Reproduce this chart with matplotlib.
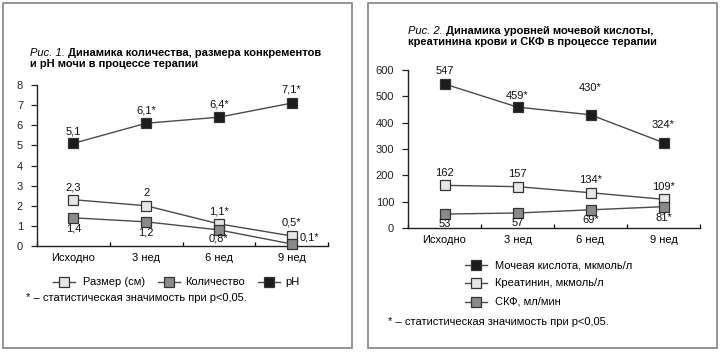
import matplotlib
matplotlib.use("Agg")
import matplotlib.pyplot as plt
from matplotlib.patches import Rectangle
from matplotlib.lines import Line2D

plt.rcParams['font.family'] = ['Liberation Sans', 'DejaVu Sans']

# ---- data ----
categories = ["Исходно", "3 нед", "6 нед", "9 нед"]

size_cm = [2.3, 2.0, 1.1, 0.5]
count = [1.4, 1.2, 0.8, 0.1]
ph = [5.1, 6.1, 6.4, 7.1]
size_labels = ["2,3", "2", "1,1*", "0,5*"]
count_labels = ["1,4", "1,2", "0,8*", "0,1*"]
ph_labels = ["5,1", "6,1*", "6,4*", "7,1*"]

uric = [547, 459, 430, 324]
creat = [162, 157, 134, 109]
gfr = [53, 57, 69, 81]
uric_labels = ["547", "459*", "430*", "324*"]
creat_labels = ["162", "157", "134*", "109*"]
gfr_labels = ["53", "57", "69*", "81*"]

left_yticks = [0, 1, 2, 3, 4, 5, 6, 7, 8]
right_yticks = [0, 100, 200, 300, 400, 500, 600]

W, H = 720, 352
fig = plt.figure(figsize=(W / 100, H / 100), dpi=100)

C_BLACK = "#1c1c1c"
C_GREY = "#8a8a8a"
C_LIGHT = "#e6e6e6"
C_EDGE = "#333333"
C_LINE = "#4a4a4a"


def fx(px):
    return px / W


def fy(py):
    return 1 - py / H


# panel frames
for x0, x1 in [(3, 352), (368, 717)]:
    fig.patches.append(Rectangle((fx(x0), fy(348)), fx(x1 - x0), (348 - 3) / H,
                                 transform=fig.transFigure, fill=False,
                                 edgecolor="#8c8c8c", lw=1.3))


def make_axes(xl, xr, y0, ytop, ymax, yticks):
    ax = fig.add_axes([fx(xl), fy(y0), fx(xr - xl), (y0 - ytop) / H])
    ax.set_xlim(-0.5, 3.5)
    ax.set_ylim(0, ymax)
    for s in ["top", "right"]:
        ax.spines[s].set_visible(False)
    for s in ["left", "bottom"]:
        ax.spines[s].set_linewidth(1.0)
        ax.spines[s].set_color("#222222")
    ax.set_yticks(yticks)
    ax.set_yticklabels([str(t) for t in yticks], fontsize=8)
    ax.tick_params(axis="y", length=4, width=0.9, pad=6, colors="#222222")
    ax.set_xticks([-0.5, 0.5, 1.5, 2.5, 3.5])
    ax.set_xticklabels([])
    ax.tick_params(axis="x", direction="in", length=3, width=0.9)
    ax.set_xticks(range(4), minor=True)
    ax.set_xticklabels(categories, minor=True, fontsize=8)
    ax.tick_params(axis="x", which="minor", length=0, pad=5)
    ax.patch.set_alpha(0)
    return ax


def series(ax, vals, fc):
    ax.plot(range(4), vals, color=C_LINE, lw=1.0, marker="s", markersize=7.5,
            markerfacecolor=fc, markeredgecolor=C_EDGE, markeredgewidth=0.9,
            clip_on=False, zorder=3)


def labels(ax, vals, texts, offsets):
    for i, (v, t, off) in enumerate(zip(vals, texts, offsets)):
        ax.annotate(t, (i, v), xytext=off, textcoords="offset points",
                    ha="center", va="center", fontsize=8, color="#111111")


def title(x, y, italic, bold, y2, line2):
    r = fig.canvas.get_renderer()
    t = fig.text(fx(x), fy(y), italic, fontsize=8, style="italic", va="center", ha="left")
    bb = t.get_window_extent(renderer=r)
    fig.text(bb.x1 / W + fx(3), fy(y), bold, fontsize=8, fontweight="bold", va="center", ha="left")
    fig.text(fx(x), fy(y2), line2, fontsize=8, fontweight="bold", va="center", ha="left")


# ---- left chart ----
axL = make_axes(37, 328, 246, 85, 8, left_yticks)
series(axL, size_cm, C_LIGHT)
series(axL, count, C_GREY)
series(axL, ph, C_BLACK)
labels(axL, ph, ph_labels, [(0, 8.5), (0, 9.5), (0, 9.5), (0, 10)])
labels(axL, size_cm, size_labels, [(0, 9), (0, 9), (0, 9), (0, 9.5)])
labels(axL, count, count_labels, [(0, -8), (0, -8), (0, -6.5), (13, 4.5)])
title(30, 53, "Рис. 1.", "Динамика количества, размера конкрементов", 64,
      "и pH мочи в процессе терапии")

# left legend
def leg_item(x, y, fc, text, tx):
    fig.lines.append(Line2D([fx(x), fx(x + 22)], [fy(y), fy(y)], transform=fig.transFigure,
                            color=C_LINE, lw=1.0, marker=None))
    fig.lines.append(Line2D([fx(x + 11)], [fy(y)], transform=fig.transFigure,
                            marker="s", markersize=7.5, markerfacecolor=fc,
                            markeredgecolor=C_EDGE, markeredgewidth=0.9, lw=0))
    fig.text(fx(tx), fy(y), text, fontsize=8, va="center", ha="left")


leg_item(53, 282, C_LIGHT, "Размер (см)", 83)
leg_item(158, 282, C_GREY, "Количество", 185)
leg_item(258, 282, C_BLACK, "pH", 285)
fig.text(fx(26), fy(298), "* – статистическая значимость при p<0,05.", fontsize=8,
         va="center", ha="left")

# ---- right chart ----
axR = make_axes(408, 700, 228, 70, 600, right_yticks)
series(axR, uric, C_BLACK)
series(axR, creat, C_LIGHT)
series(axR, gfr, C_GREY)
labels(axR, uric, uric_labels, [(0, 9.5), (0, 8), (0, 19), (0, 13)])
labels(axR, creat, creat_labels, [(0, 9), (0, 9), (0, 9), (0, 8.5)])
labels(axR, gfr, gfr_labels, [(0, -7.5), (0, -7.5), (0, -7.5), (0, -8.5)])
title(408, 31, "Рис. 2.", "Динамика уровней мочевой кислоты,", 42,
      "креатинина крови и СКФ в процессе терапии")

leg_item(465, 265, C_BLACK, "Мочеая кислота, мкмоль/л", 495)
leg_item(465, 283, C_LIGHT, "Креатинин, мкмоль/л", 495)
leg_item(465, 302, C_GREY, "СКФ, мл/мин", 495)
fig.text(fx(388), fy(322), "* – статистическая значимость при p<0,05.", fontsize=8,
         va="center", ha="left")

fig.savefig("out.png", dpi=100)
